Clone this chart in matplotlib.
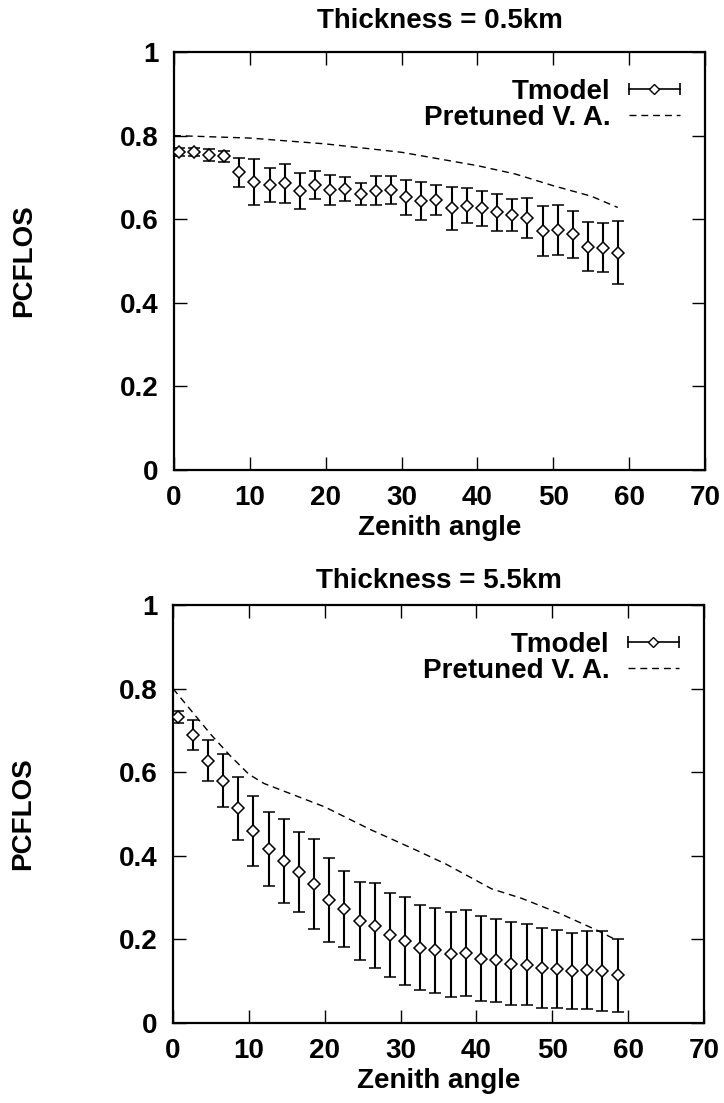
import matplotlib
matplotlib.use("Agg")
import matplotlib.pyplot as plt
from matplotlib.lines import Line2D
from matplotlib.legend_handler import HandlerLine2D, HandlerTuple

# zenith angle bin centres (same for both panels)
zenith = [0.6, 2.6, 4.6, 6.6, 8.6, 10.6, 12.6, 14.6, 16.6, 18.6,
          20.6, 22.6, 24.6, 26.6, 28.6, 30.6, 32.6, 34.6, 36.6, 38.6,
          40.6, 42.6, 44.6, 46.6, 48.6, 50.6, 52.6, 54.6, 56.6, 58.6]

# thickness = 0.5km
tmodel_05 = [0.760, 0.760, 0.754, 0.750, 0.712, 0.690, 0.682, 0.686, 0.668, 0.682,
             0.670, 0.672, 0.660, 0.668, 0.670, 0.652, 0.644, 0.646, 0.626, 0.632,
             0.626, 0.616, 0.610, 0.602, 0.572, 0.574, 0.564, 0.534, 0.532, 0.520]
tmodel_05_err = [0.010, 0.010, 0.015, 0.014, 0.034, 0.055, 0.041, 0.047, 0.043, 0.033,
                 0.035, 0.028, 0.026, 0.035, 0.033, 0.042, 0.046, 0.036, 0.052, 0.042,
                 0.042, 0.044, 0.038, 0.048, 0.060, 0.060, 0.056, 0.059, 0.059, 0.075]
va_05_x = [0, 10, 20, 30, 40, 45, 50, 55, 58.5]
va_05_y = [0.800, 0.794, 0.780, 0.760, 0.728, 0.708, 0.680, 0.655, 0.628]

# thickness = 5.5km
tmodel_55 = [0.732, 0.688, 0.628, 0.580, 0.514, 0.460, 0.416, 0.388, 0.362, 0.333,
             0.295, 0.273, 0.244, 0.233, 0.211, 0.196, 0.180, 0.174, 0.164, 0.167,
             0.154, 0.150, 0.142, 0.140, 0.132, 0.129, 0.124, 0.126, 0.124, 0.114]
tmodel_55_err = [0.015, 0.036, 0.050, 0.063, 0.075, 0.084, 0.088, 0.100, 0.096, 0.108,
                 0.100, 0.091, 0.094, 0.102, 0.100, 0.106, 0.102, 0.102, 0.102, 0.103,
                 0.102, 0.100, 0.100, 0.096, 0.095, 0.094, 0.091, 0.093, 0.096, 0.087]
va_55_x = [0, 2.5, 5, 7.5, 10, 12, 20, 26, 32, 36, 42, 46, 51, 56, 58.5]
va_55_y = [0.800, 0.745, 0.690, 0.640, 0.595, 0.573, 0.517, 0.463, 0.414, 0.380,
           0.321, 0.298, 0.262, 0.221, 0.198]

xticks = [0, 10, 20, 30, 40, 50, 60, 70]
yticks = [0, 0.2, 0.4, 0.6, 0.8, 1]
ytick_labels = ["0", "0.2", "0.4", "0.6", "0.8", "1"]

plt.rcParams['font.family'] = ['Liberation Sans', 'DejaVu Sans']
plt.rcParams['font.weight'] = 'bold'
FS = 20

fig = plt.figure(figsize=(7.24, 11.03), dpi=100)
ax1 = fig.add_axes([0.2403, 0.5739, 0.7334, 0.379])
ax2 = fig.add_axes([0.2390, 0.0725, 0.7334, 0.379])


def panel(ax, title, y, yerr, vx, vy, title_pad):
    ax.errorbar(zenith, y, yerr=yerr, fmt='D', ms=6.5, mfc='white', mec='black',
                mew=1.1, ecolor='black', elinewidth=1.5, capsize=4, capthick=1.5,
                zorder=3)
    ax.plot(vx, vy, color='black', lw=1.0, linestyle=(0, (5, 3.5)), zorder=2)

    # gnuplot style legend: label first, sample on the right
    caps = Line2D([], [], color='black', lw=1.2, marker='|', ms=8, mew=1.2)
    diamond = Line2D([], [], color='black', ls='none', marker='D', ms=5,
                     mfc='white', mew=1.0)
    dashed = Line2D([], [], color='black', lw=1.0, linestyle=(0, (5, 3.5)))
    ax.legend([(caps, diamond), dashed], ["Tmodel", "Pretuned V. A."],
              handler_map={caps: HandlerLine2D(numpoints=2, marker_pad=0),
                           diamond: HandlerLine2D(numpoints=1),
                           tuple: HandlerTuple(ndivide=1)},
              loc='upper right', bbox_to_anchor=(0.953, 0.935),
              markerfirst=False, frameon=False, fontsize=FS,
              handlelength=1.85, handletextpad=0.65, labelspacing=0.0,
              borderpad=0, borderaxespad=0)

    ax.set_xlim(0, 70)
    ax.set_ylim(0, 1)
    ax.set_xticks(xticks)
    ax.set_yticks(yticks)
    ax.set_yticklabels(ytick_labels)
    ax.tick_params(direction='in', top=True, right=True, length=9.5, width=1,
                   labelsize=FS, pad=11)
    for s in ax.spines.values():
        s.set_linewidth(1.6)
    ax.set_title(title, fontsize=FS, fontweight='bold', pad=title_pad)
    ax.set_xlabel("Zenith angle", fontsize=FS, fontweight='bold')
    ax.set_ylabel("PCFLOS", fontsize=FS, fontweight='bold')
    ax.xaxis.set_label_coords(0.5, -0.108)
    ax.yaxis.set_label_coords(-0.258, 0.5)


panel(ax1, "Thickness = 0.5km", tmodel_05, tmodel_05_err, va_05_x, va_05_y, 17)
panel(ax2, "Thickness = 5.5km", tmodel_55, tmodel_55_err, va_55_x, va_55_y, 12)

fig.savefig("out.png", dpi=100)
